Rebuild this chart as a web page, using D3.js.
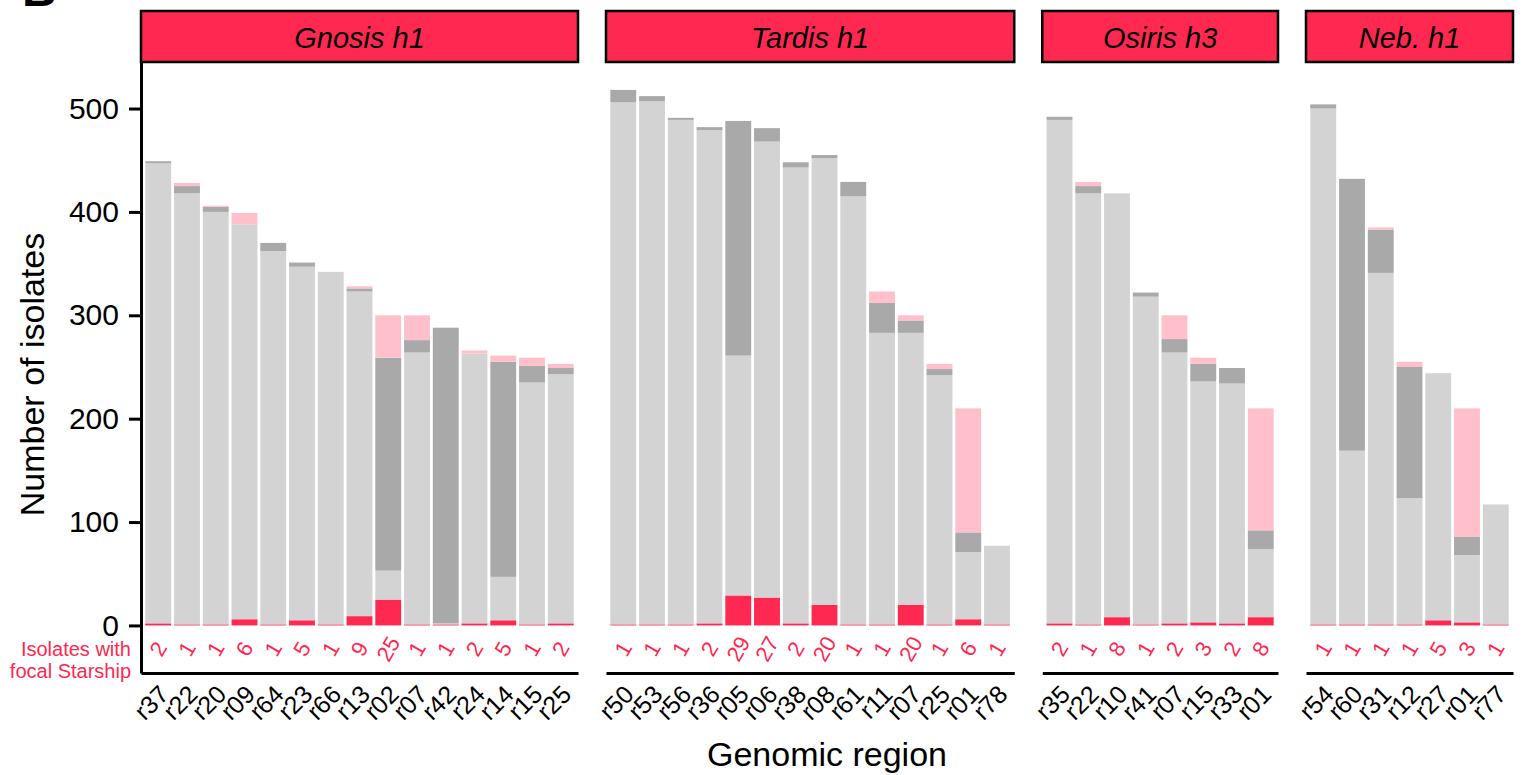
<html lang="en">
<head>
  <meta charset="UTF-8">
  <title>Starship regions</title>
  <style>
    body { margin: 0; background: #fff; }
    svg text { font-family: "Liberation Sans", Arial, Helvetica, sans-serif; }
  </style>
</head>
<body>
  <div id="viz"></div>
  <script src="https://d3js.org/d3.v7.min.js"></script>
  <script>
    // facets
    const panels = ["Gnosis h1", "Tardis h1", "Osiris h3", "Neb. h1"]

    // one list per facet
    const regions = [
      ["r37", "r22", "r20", "r09", "r64", "r23", "r66", "r13", "r02", "r07", "r42", "r24", "r14", "r15", "r25"],
      ["r50", "r53", "r56", "r36", "r05", "r06", "r38", "r08", "r61", "r11", "r07", "r25", "r01", "r78"],
      ["r35", "r22", "r10", "r41", "r07", "r15", "r33", "r01"],
      ["r54", "r60", "r31", "r12", "r27", "r01", "r77"]
    ]
    // isolates with focal Starship (red, also the labels)
    const focal = [
      [2, 1, 1, 6, 1, 5, 1, 9, 25, 1, 1, 2, 5, 1, 2],
      [1, 1, 1, 2, 29, 27, 2, 20, 1, 1, 20, 1, 6, 1],
      [2, 1, 8, 1, 2, 3, 2, 8],
      [1, 1, 1, 1, 5, 3, 1]
    ]
    // light grey segment
    const light = [
      [445, 417, 399, 382, 361, 342, 341, 314, 28, 263, 1, 261, 42, 234, 241],
      [505, 506, 488, 477, 232, 441, 441, 432, 414, 282, 263, 241, 65, 76],
      [487, 417, 410, 317, 262, 233, 232, 66],
      [499, 168, 340, 122, 239, 65, 116]
    ]
    // dark grey segment
    const dark = [
      [2, 7, 5, 0, 8, 4, 0, 3, 206, 12, 286, 0, 208, 16, 6],
      [12, 5, 2, 3, 227, 13, 5, 3, 14, 29, 12, 6, 19, 0],
      [3, 7, 0, 4, 13, 17, 15, 18],
      [4, 263, 42, 127, 0, 18, 0]
    ]
    // pink segment
    const pink = [
      [0, 3, 1, 11, 0, 0, 0, 2, 41, 24, 0, 3, 6, 8, 4],
      [0, 0, 0, 0, 0, 0, 0, 0, 0, 11, 5, 5, 120, 0],
      [0, 4, 0, 0, 23, 6, 0, 118],
      [0, 0, 2, 5, 0, 124, 0]
    ]
    const yTicks = [0, 100, 200, 300, 400, 500]

    const red = "#ff2851"
    const colors = {focal: red, light: "#d3d3d3", dark: "#a9a9a9", pink: "#ffc0cb"}
    const keys = ["focal", "light", "dark", "pink"]

    const plotLeft = 141, plotRight = 1513, plotTop = 62, plotBottom = 673, gap = 28
    const stripTop = 11

    const svg = d3.select("#viz").append("svg")
      .attr("width", 1538).attr("height", 775)

    const y = d3.scaleLinear().domain([-46, 545]).range([plotBottom, plotTop])

    // panel widths proportional to bar count
    const units = d3.sum(regions, function(r) { return r.length + 0.2 })
    const u = (plotRight - plotLeft - gap * (panels.length - 1)) / units

    let x0 = plotLeft
    panels.forEach(function(name, p) {
      const n = regions[p].length
      const x1 = x0 + (n + 0.2) * u
      const x = d3.scaleBand().domain(regions[p].map(function(d, i) { return i }))
        .range([x0, x1]).paddingInner(0.1).paddingOuter(0.15)

      const rows = regions[p].map(function(r, i) {
        return {i: i, focal: focal[p][i], light: light[p][i], dark: dark[p][i], pink: pink[p][i]}
      })
      const stack = d3.stack().keys(keys)(rows)

      const g = svg.append("g")
      g.selectAll("g.layer")
        .data(stack)
        .enter()
        .append("g")
        .attr("class", "layer")
        .attr("fill", function(d) { return colors[d.key] })
        .selectAll("rect")
        .data(function(d) { return d })
        .enter()
        .append("rect")
        .attr("x", function(d) { return x(d.data.i) })
        .attr("width", x.bandwidth())
        .attr("y", function(d) { return y(d[1]) })
        .attr("height", function(d) { return y(d[0]) - y(d[1]) })

      // count labels
      g.selectAll("text.count")
        .data(rows)
        .enter()
        .append("text")
        .attr("class", "count")
        .attr("transform", function(d) {
          return "translate(" + (x(d.i) + x.bandwidth() / 2) + ",649) rotate(-60)"
        })
        .attr("text-anchor", "middle")
        .attr("dominant-baseline", "central")
        .attr("fill", red)
        .style("font-size", "22px")
        .text(function(d) { return d.focal })

      // x axis
      const xAxis = svg.append("g")
        .attr("transform", "translate(0," + plotBottom + ")")
        .call(d3.axisBottom(x).tickSize(0).tickSizeOuter(0).tickFormat(function(i) { return regions[p][i] }))
      xAxis.select(".domain").attr("stroke", "#000").attr("stroke-width", 3)
      xAxis.selectAll("text")
        .attr("text-anchor", "end")
        .attr("dy", null)
        .attr("y", null)
        .attr("transform", "translate(12,23) rotate(-45)")
        .style("font-size", "25px")
        .attr("fill", "#000")

      // strip
      svg.append("rect")
        .attr("x", x0).attr("y", stripTop)
        .attr("width", x1 - x0).attr("height", plotTop - stripTop)
        .attr("fill", red).attr("stroke", "#000").attr("stroke-width", 2.5)
      svg.append("text")
        .attr("x", (x0 + x1) / 2).attr("y", (stripTop + plotTop) / 2 + 1)
        .attr("text-anchor", "middle")
        .attr("dominant-baseline", "central")
        .style("font-size", "29px")
        .style("font-style", "italic")
        .text(name)

      x0 = x1 + gap
    })

    // y axis
    const yAxis = svg.append("g")
      .attr("transform", "translate(" + plotLeft + ",0)")
      .call(d3.axisLeft(y).tickValues(yTicks).tickSize(12).tickSizeOuter(0).tickPadding(10))
    yAxis.select(".domain").attr("stroke", "#000").attr("stroke-width", 3)
    yAxis.selectAll(".tick line").attr("stroke", "#000").attr("stroke-width", 3)
    yAxis.selectAll(".tick text").style("font-size", "30px").attr("fill", "#000")

    // row label for counts
    svg.append("text")
      .attr("x", 131).attr("y", 656)
      .attr("text-anchor", "end")
      .attr("fill", red)
      .style("font-size", "20px")
      .selectAll("tspan")
      .data(["Isolates with", "focal Starship"])
      .enter()
      .append("tspan")
      .attr("x", 131)
      .attr("dy", function(d, i) { return i === 0 ? 0 : 22 })
      .text(function(d) { return d })

    // axis titles
    svg.append("text")
      .attr("transform", "translate(44," + ((plotTop + plotBottom) / 2 + 7) + ") rotate(-90)")
      .attr("text-anchor", "middle")
      .style("font-size", "34px")
      .text("Number of isolates")
    svg.append("text")
      .attr("x", (plotLeft + plotRight) / 2).attr("y", 766)
      .attr("text-anchor", "middle")
      .style("font-size", "34px")
      .text("Genomic region")

    // panel tag, cut off at the top
    svg.append("text")
      .attr("x", 22).attr("y", 6)
      .style("font-size", "48px")
      .style("font-weight", "bold")
      .text("B")
  </script>
</body>
</html>
